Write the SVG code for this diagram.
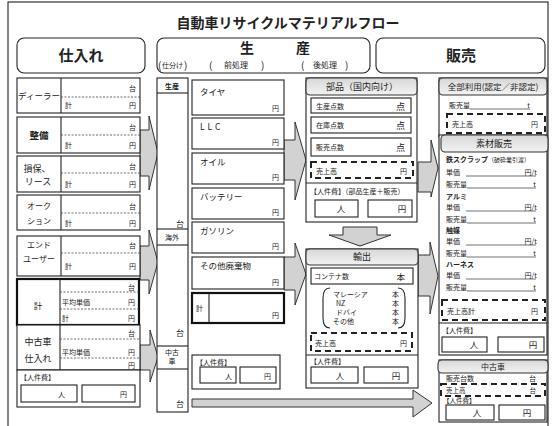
<svg xmlns="http://www.w3.org/2000/svg" width="556" height="426" viewBox="0 0 556 426">
<style>
text{font-family:"Noto Sans CJK JP","Noto Sans",sans-serif;fill:#222}
.b{fill:#fff;stroke:#222;stroke-width:1.1}
.bt{fill:#fff;stroke:#111;stroke-width:2.2}
.n{fill:none;stroke:#222;stroke-width:1.1}
.d{stroke:#444;stroke-width:0.8;stroke-dasharray:2 1.5}
.dash{fill:none;stroke:#222;stroke-width:2;stroke-dasharray:6 4}
.ul{stroke:#333;stroke-width:0.7}
.arr{fill:#d2d2d2;stroke:#333;stroke-width:1}
.hdr{fill:url(#g);stroke:#333;stroke-width:1.1}
.s{font-size:7px}
.m{font-size:8.5px}
.e{text-anchor:end}
.c{text-anchor:middle}
.k{font-weight:bold}
.L{font-size:15px;font-weight:bold;text-anchor:middle}
.p{font-size:10px}
</style>
<defs>
<linearGradient id="g" x1="0" y1="0" x2="0" y2="1"><stop offset="0" stop-color="#d8d8d8"/><stop offset="1" stop-color="#f2f2f2"/></linearGradient>
</defs>
<rect x="8" y="2" width="540" height="440" class="n"/>
<text x="288" y="28" class="c k" style="font-size:14px">自動車リサイクルマテリアルフロー</text>

<g id="connectors">
<path class="arr" d="M140,130 L149,130 L149,116 L158,153 L149,190 L149,176 L140,176 Z"/>
<path class="arr" d="M140,246 L149,246 L149,230 L158,262 L149,294 L149,280 L140,280 Z"/>
<path class="arr" d="M140,345 L150,345 L150,330 L158,357 L150,382 L150,370 L140,370 Z"/>
<path class="arr" d="M284,140 L295,140 L295,122 L306,160 L295,200 L295,180 L284,180 Z"/>
<path class="arr" d="M284,257 L295,257 L295,243 L306,274 L295,305 L295,290 L284,290 Z"/>
<path class="arr" d="M418,162 L431,162 L431,140 L438,168 L431,197 L431,192 L418,192 Z"/>
<path class="arr" d="M418,255 L430,255 L430,242 L438,276 L430,314 L430,296 L418,296 Z"/>
<path class="arr" d="M192,399 L413,399 L413,390 L432,403 L413,417 L413,407 L192,407 Z"/>
<path class="arr" d="M343,227 L377,227 L377,235 L391,235 L360,246 L329,235 L343,235 Z"/>
</g>

<g id="hdr-shiire">
<rect x="17" y="38" width="128" height="35" rx="7" class="b" stroke-width="1.4"/>
<text x="81" y="61" class="L">仕入れ</text>
</g>
<g id="hdr-seisan">
<rect x="157" y="38" width="213" height="35" rx="7" class="b" stroke-width="1.4"/>
<text x="247" y="53" class="L" style="font-size:14px">生</text>
<text x="303" y="53" class="L" style="font-size:14px">産</text>
<text x="158" y="69" class="p">(</text>
<text x="162" y="68" class="s">仕分け</text>
<text x="184" y="69" class="p">)</text>
<text x="209" y="69" class="p">(</text>
<text x="224" y="68" style="font-size:8px">前処理</text>
<text x="261" y="69" class="p">)</text>
<text x="301" y="69" class="p">(</text>
<text x="313" y="68" style="font-size:8px">後処理</text>
<text x="345" y="69" class="p">)</text>
</g>
<g id="hdr-hanbai">
<rect x="376" y="38" width="169" height="35" rx="7" class="b" stroke-width="1.4"/>
<text x="461" y="61" class="L">販売</text>
</g>

<g id="dealer">
<rect x="17" y="78" width="123" height="35" class="b"/>
<line x1="61" y1="78" x2="61" y2="113" class="n"/>
<line x1="61" y1="97" x2="140" y2="97" class="d"/>
<text x="39" y="99" class="c m">ディーラー</text>
<text x="136" y="91" class="s e">台</text>
<text x="65" y="108" class="s">計</text>
<text x="136" y="108" class="s e">円</text>
</g>
<g id="seibi">
<rect x="17" y="117" width="123" height="36" class="b"/>
<line x1="61" y1="117" x2="61" y2="153" class="n"/>
<line x1="61" y1="135" x2="140" y2="135" class="d"/>
<text x="39" y="139" class="c k" style="font-size:9.5px">整備</text>
<text x="136" y="130" class="s e">台</text>
<text x="65" y="148" class="s">計</text>
<text x="136" y="148" class="s e">円</text>
</g>
<g id="sonpo">
<rect x="17" y="156" width="123" height="36" class="b"/>
<line x1="61" y1="156" x2="61" y2="192" class="n"/>
<line x1="61" y1="173" x2="140" y2="173" class="d"/>
<text x="37" y="172" class="c" style="font-size:9px">損保、</text>
<text x="38" y="185" class="c" style="font-size:9px">リース</text>
<text x="136" y="169" class="s e">台</text>
<text x="65" y="187" class="s">計</text>
<text x="136" y="187" class="s e">円</text>
</g>
<g id="auction">
<rect x="17" y="195" width="123" height="35" class="b"/>
<line x1="61" y1="195" x2="61" y2="230" class="n"/>
<line x1="61" y1="213" x2="140" y2="213" class="d"/>
<text x="39" y="209" class="c" style="font-size:8px">オーク</text>
<text x="39" y="224" class="c" style="font-size:8px">ション</text>
<text x="136" y="209" class="s e">台</text>
<text x="65" y="226" class="s">計</text>
<text x="136" y="226" class="s e">円</text>
</g>
<g id="enduser">
<rect x="17" y="236" width="123" height="40" class="b"/>
<line x1="61" y1="236" x2="61" y2="276" class="n"/>
<line x1="61" y1="253" x2="140" y2="253" class="d"/>
<text x="39" y="248" class="c" style="font-size:8px">エンド</text>
<text x="39" y="262" class="c" style="font-size:8px">ユーザー</text>
<text x="136" y="248" class="s e">台</text>
<text x="65" y="269" class="s">計</text>
<text x="136" y="269" class="s e">円</text>
</g>
<g id="shiire-total">
<rect x="17" y="279" width="122" height="46" class="bt"/>
<line x1="60" y1="279" x2="60" y2="325" class="n" stroke-width="1.6"/>
<line x1="60" y1="292" x2="139" y2="292" class="d"/>
<line x1="60" y1="309" x2="139" y2="309" class="d"/>
<text x="38" y="309" class="c m">計</text>
<text x="135" y="290" class="s e">台</text>
<text x="62" y="305" class="s">平均単価</text>
<text x="135" y="305" class="s e">円</text>
<text x="62" y="321" class="s">計</text>
<text x="135" y="321" class="s e">円</text>
</g>
<g id="chuko-shiire">
<rect x="17" y="325" width="123" height="45" class="b"/>
<line x1="60" y1="325" x2="60" y2="370" class="n"/>
<line x1="60" y1="339" x2="140" y2="339" class="d"/>
<line x1="60" y1="358" x2="140" y2="358" class="d"/>
<text x="38" y="345" class="c" style="font-size:9px">中古車</text>
<text x="38" y="362" class="c" style="font-size:9px">仕入れ</text>
<text x="135" y="336" class="s e">台</text>
<text x="62" y="355" class="s">平均単価</text>
<text x="135" y="355" class="s e">円</text>
<text x="135" y="368" class="s e">円</text>
</g>
<g id="shiire-jinken">
<rect x="17" y="370" width="123" height="37" class="b"/>
<text x="20" y="380" class="s">【人件費】</text>
<rect x="21" y="385" width="56" height="17" class="b"/>
<rect x="82" y="385" width="53" height="17" class="b"/>
<text x="58" y="397" class="s">人</text>
<text x="120" y="397" class="s">円</text>
</g>

<g id="seisan-col">
<rect x="157" y="78" width="31" height="334" class="b"/>
<line x1="157" y1="93" x2="188" y2="93" class="n"/>
<line x1="157" y1="229" x2="188" y2="229" class="n"/>
<line x1="157" y1="245" x2="188" y2="245" class="n"/>
<line x1="157" y1="346" x2="188" y2="346" class="n"/>
<line x1="157" y1="369" x2="188" y2="369" class="n"/>
<text x="172" y="89" class="c s k">生産</text>
<text x="184" y="227" class="e" style="font-size:8px">台</text>
<text x="172" y="240" class="c s">海外</text>
<text x="184" y="336" class="e" style="font-size:8px">台</text>
<text x="172" y="355" class="c s">中古</text>
<text x="172" y="364" class="c s">車</text>
<text x="184" y="407" class="e" style="font-size:8px">台</text>
</g>

<g id="tire">
<rect x="192" y="80" width="92" height="35" class="b"/>
<text x="200" y="95" class="m">タイヤ</text>
<text x="279" y="111" class="s e">円</text>
</g>
<g id="llc">
<rect x="192" y="118" width="92" height="31" class="b"/>
<text x="200" y="130" class="m" letter-spacing="3">LLC</text>
<text x="279" y="145" class="s e">円</text>
</g>
<g id="oil">
<rect x="192" y="153" width="92" height="31" class="b"/>
<text x="200" y="165" class="m">オイル</text>
<text x="279" y="180" class="s e">円</text>
</g>
<g id="battery">
<rect x="192" y="188" width="92" height="31" class="b"/>
<text x="200" y="200" class="m">バッテリー</text>
<text x="279" y="215" class="s e">円</text>
</g>
<g id="gasoline">
<rect x="192" y="222" width="92" height="31" class="b"/>
<text x="200" y="234" class="m">ガソリン</text>
<text x="279" y="249" class="s e">円</text>
</g>
<g id="other-waste">
<rect x="192" y="257" width="92" height="32" class="b"/>
<text x="200" y="269" class="m">その他廃棄物</text>
<text x="279" y="285" class="s e">円</text>
</g>
<g id="item-total">
<rect x="192" y="293" width="92" height="30" class="bt"/>
<line x1="209" y1="293" x2="209" y2="323" class="n" stroke-width="1.6"/>
<text x="196" y="311" class="s">計</text>
<text x="279" y="318" class="s e">円</text>
</g>
<g id="seisan-jinken">
<rect x="192" y="355" width="88" height="34" class="b"/>
<text x="196" y="365" class="s">【人件費】</text>
<rect x="200" y="367" width="36" height="16" class="b"/>
<rect x="240" y="367" width="36" height="16" class="b"/>
<text x="225" y="379" class="s">人</text>
<text x="264" y="379" class="s">円</text>
</g>

<g id="buhin">
<rect x="306" y="78" width="111" height="144" class="b"/>
<rect x="306" y="78" width="111" height="17" rx="4" class="hdr"/>
<text x="362" y="90" class="c" style="font-size:9px">部品（国内向け）</text>
<rect x="311" y="98" width="100" height="15" class="b"/>
<text x="316" y="109" class="s">生産点数</text>
<text x="405" y="110" class="e" style="font-size:9px">点</text>
<rect x="311" y="117" width="100" height="16" class="b"/>
<text x="316" y="128" class="s">在庫点数</text>
<text x="405" y="129" class="e" style="font-size:9px">点</text>
<rect x="311" y="138" width="100" height="18" class="b"/>
<text x="316" y="150" class="s">販売点数</text>
<text x="405" y="151" class="e" style="font-size:9px">点</text>
<rect x="311" y="162" width="102" height="16" class="dash"/>
<text x="316" y="174" class="s">売上高</text>
<text x="407" y="174" class="s e">円</text>
<line x1="306" y1="183" x2="417" y2="183" class="n"/>
<text x="310" y="194" class="s">【人件費】（部品生産＋販売）</text>
<rect x="315" y="200" width="43" height="17" class="b"/>
<rect x="368" y="200" width="44" height="17" class="b"/>
<text x="341" y="212" class="c m">人</text>
<text x="402" y="212" class="c m">円</text>
</g>

<g id="yushutsu">
<rect x="306" y="249" width="112" height="139" class="b"/>
<rect x="306" y="249" width="112" height="16" rx="4" class="hdr"/>
<text x="362" y="260" class="c" style="font-size:9px">輸出</text>
<rect x="311" y="268" width="102" height="16" class="b"/>
<text x="314" y="279" class="s">コンテナ数</text>
<text x="405" y="280" class="e" style="font-size:8.5px">本</text>
<path class="n" d="M330,288 Q323,288 323,298 L323,318 Q323,328 330,328"/>
<path class="n" d="M398,288 Q405,288 405,298 L405,318 Q405,328 398,328"/>
<text x="333" y="297" class="s">マレーシア</text>
<text x="336" y="306" class="s">NZ</text>
<text x="336" y="315" class="s">ドバイ</text>
<text x="333" y="324" class="s">その他</text>
<text x="399" y="297" class="s e">本</text>
<text x="399" y="306" class="s e">本</text>
<text x="399" y="315" class="s e">本</text>
<text x="399" y="324" class="s e">本</text>
<rect x="311" y="333" width="101" height="18" class="dash"/>
<text x="315" y="346" class="s">売上高</text>
<text x="407" y="346" class="s e">円</text>
<line x1="306" y1="355" x2="418" y2="355" class="n"/>
<text x="310" y="364" class="s">【人件費】</text>
<rect x="311" y="367" width="47" height="16" class="b"/>
<rect x="364" y="367" width="44" height="16" class="b"/>
<text x="340" y="379" class="c m">人</text>
<text x="396" y="379" class="c m">円</text>
</g>

<g id="zenbu">
<rect x="439" y="78" width="108" height="59" class="b"/>
<rect x="439" y="78" width="108" height="17" rx="4" class="hdr"/>
<text x="493" y="90" class="c" style="font-size:8.5px">全部利用(認定／非認定)</text>
<text x="449" y="108" class="s">販売量</text>
<line x1="470" y1="109" x2="530" y2="109" class="ul"/>
<text x="530" y="108" class="s e">t</text>
<rect x="447" y="114" width="98" height="19" class="dash"/>
<text x="452" y="127" class="s">売上高</text>
<text x="538" y="127" class="s e">円</text>
</g>

<g id="sozai">
<rect x="439" y="135" width="108" height="220" class="b"/>
<rect x="441" y="135" width="107" height="17" rx="4" class="hdr"/>
<text x="494" y="147" class="c" style="font-size:9px">素材販売</text>
<text x="446" y="162" class="s k">鉄スクラップ<tspan style="font-size:6px;font-weight:normal">（破砕業引渡）</tspan></text>
<text x="446" y="175" class="s">単価</text><line x1="466" y1="176" x2="536" y2="176" class="ul"/><text x="537" y="175" class="s e">円/t</text>
<text x="446" y="187" class="s">販売量</text><line x1="467" y1="188" x2="536" y2="188" class="ul"/><text x="536" y="187" class="s e">t</text>
<text x="446" y="199" class="s k">アルミ</text>
<text x="446" y="210" class="s">単価</text><line x1="466" y1="211" x2="536" y2="211" class="ul"/><text x="537" y="210" class="s e">円/t</text>
<text x="446" y="222" class="s">販売量</text><line x1="467" y1="223" x2="536" y2="223" class="ul"/><text x="536" y="222" class="s e">t</text>
<text x="446" y="233" class="s k">触媒</text>
<text x="446" y="244" class="s">単価</text><line x1="466" y1="245" x2="536" y2="245" class="ul"/><text x="537" y="244" class="s e">円/t</text>
<text x="446" y="256" class="s">販売量</text><line x1="467" y1="257" x2="536" y2="257" class="ul"/><text x="536" y="256" class="s e">t</text>
<text x="446" y="267" class="s k">ハーネス</text>
<text x="446" y="278" class="s">単価</text><line x1="466" y1="279" x2="536" y2="279" class="ul"/><text x="537" y="278" class="s e">円/t</text>
<text x="446" y="290" class="s">販売量</text><line x1="467" y1="291" x2="536" y2="291" class="ul"/><text x="536" y="290" class="s e">t</text>
<rect x="442" y="300" width="103" height="20" class="dash"/>
<text x="447" y="314" class="s">売上高計</text>
<text x="538" y="314" class="s e">円</text>
<line x1="439" y1="323" x2="547" y2="323" class="n"/>
<text x="442" y="333" class="s">【人件費】</text>
<rect x="442" y="337" width="45" height="15" class="b"/>
<rect x="498" y="337" width="46" height="15" class="b"/>
<text x="474" y="348" class="c m">人</text>
<text x="533" y="348" class="c m">円</text>
</g>

<g id="chuko-hanbai">
<rect x="439" y="360" width="108" height="62" class="b"/>
<rect x="438" y="360" width="110" height="13" rx="4" class="hdr"/>
<text x="493" y="370" class="c" style="font-size:8px">中古車</text>
<text x="446" y="381" class="s">販売台数</text>
<text x="536" y="381" class="s e">台</text>
<rect x="441" y="384" width="104" height="12" class="dash" stroke-width="1.5"/>
<text x="446" y="393" style="font-size:6.5px">売上高</text>
<text x="536" y="393" class="e" style="font-size:6.5px">台</text>
<text x="443" y="403" style="font-size:6.5px">【人件費】</text>
<rect x="446" y="405" width="48" height="15" class="b"/>
<rect x="499" y="405" width="46" height="15" class="b"/>
<text x="477" y="416" class="c m">人</text>
<text x="527" y="416" class="c m">円</text>
</g>
</svg>
